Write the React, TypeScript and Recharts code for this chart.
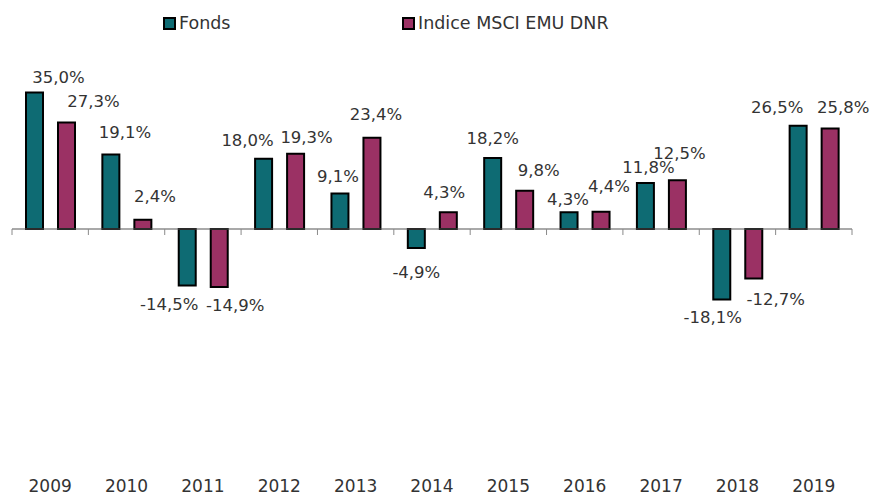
import React from "react";
import { BarChart, Bar, XAxis, YAxis, ReferenceLine, LabelList } from "recharts";

const years = ["2009", "2010", "2011", "2012", "2013", "2014", "2015", "2016", "2017", "2018", "2019"];
const fonds = [35.0, 19.1, -14.5, 18.0, 9.1, -4.9, 18.2, 4.3, 11.8, -18.1, 26.5];
const indice = [27.3, 2.4, -14.9, 19.3, 23.4, 4.3, 9.8, 4.4, 12.5, -12.7, 25.8];
const seriesNames = ["Fonds", "Indice MSCI EMU DNR"];

// hand nudges for the value labels (the source places them by hand)
const fondsNudgeX = [24, 14, -18, -16, -2, 0, 0, -1, 3, -9, -21];
const fondsNudgeY = [-15, -22, 19, -18, -17, 24, -20, -13, -15, 18, -18];
const indiceNudgeX = [27, 12, 16, 11, 4, -4, 14, 8, 2, 22, 13];
const indiceNudgeY = [-21, -23, 18, -16, -23, -20, -20, -25, -27, 21, -21];

const TEAL = "#0E6B73";
const PURPLE = "#9B3164";
const TEXT = "#333333";
const FONT = "'DejaVu Sans', Verdana, sans-serif";

const data = years.map((y, i) => ({ year: y, fonds: fonds[i], indice: indice[i] }));

const fmt = (v: number) => v.toFixed(1).replace(".", ",") + "%";

function makeLabel(nx: number[], ny: number[]) {
  return (props: any) => {
    const { x, y, width, height, value, index } = props;
    const top = Math.min(y, y + height);
    const bottom = Math.max(y, y + height);
    const edge = value >= 0 ? top : bottom;
    return (
      <text
        x={x + width / 2 + nx[index]}
        y={edge + ny[index]}
        textAnchor="middle"
        dominantBaseline="central"
        fontSize={16.5}
        fontFamily={FONT}
        fill={TEXT}
      >
        {fmt(value)}
      </text>
    );
  };
}

// zero line with small ticks at the category boundaries
const ZeroLine = (props: any) => {
  const { x1, x2, y1 } = props;
  const step = (x2 - x1) / years.length;
  const ticks = [];
  for (let i = 0; i <= years.length; i++) {
    const tx = x1 + step * i;
    ticks.push(<line key={i} x1={tx} x2={tx} y1={y1} y2={y1 + 6} stroke="#8a8a8a" strokeWidth={1} />);
  }
  return (
    <g>
      <line x1={x1} x2={x2} y1={y1} y2={y1} stroke="#555555" strokeWidth={1.2} />
      {ticks}
    </g>
  );
};

const LegendItem = ({ left, color, name }: { left: number; color: string; name: string }) => (
  <div style={{ position: "absolute", left, top: 12, display: "flex", alignItems: "center", whiteSpace: "nowrap" }}>
    <span style={{ width: 9, height: 9, background: color, border: "2px solid #000", display: "inline-block", marginRight: 3 }} />
    <span style={{ fontSize: 17.5, color: TEXT, fontFamily: FONT, lineHeight: "22px" }}>{name}</span>
  </div>
);

export default function App() {
  return (
    <div style={{ position: "absolute", left: 0, top: 0, width: 872, height: 497, background: "#fff", fontFamily: FONT }}>
      <LegendItem left={163} color={TEAL} name={seriesNames[0]} />
      <LegendItem left={402} color={PURPLE} name={seriesNames[1]} />
      <BarChart
        width={872}
        height={497}
        data={data}
        margin={{ top: 73, right: 20, bottom: 0, left: 12 }}
        barSize={17}
        barGap={15}
      >
        <YAxis hide domain={[-60, 40]} />
        <XAxis
          dataKey="year"
          axisLine={false}
          tickLine={false}
          height={34}
          tickMargin={11}
          tick={{ fontSize: 17, fill: TEXT, fontFamily: FONT }}
        />
        <ReferenceLine y={0} shape={ZeroLine} />
        <Bar dataKey="fonds" name={seriesNames[0]} fill={TEAL} stroke="#000" strokeWidth={2} isAnimationActive={false}>
          <LabelList dataKey="fonds" content={makeLabel(fondsNudgeX, fondsNudgeY)} />
        </Bar>
        <Bar dataKey="indice" name={seriesNames[1]} fill={PURPLE} stroke="#000" strokeWidth={2} isAnimationActive={false}>
          <LabelList dataKey="indice" content={makeLabel(indiceNudgeX, indiceNudgeY)} />
        </Bar>
      </BarChart>
    </div>
  );
}
